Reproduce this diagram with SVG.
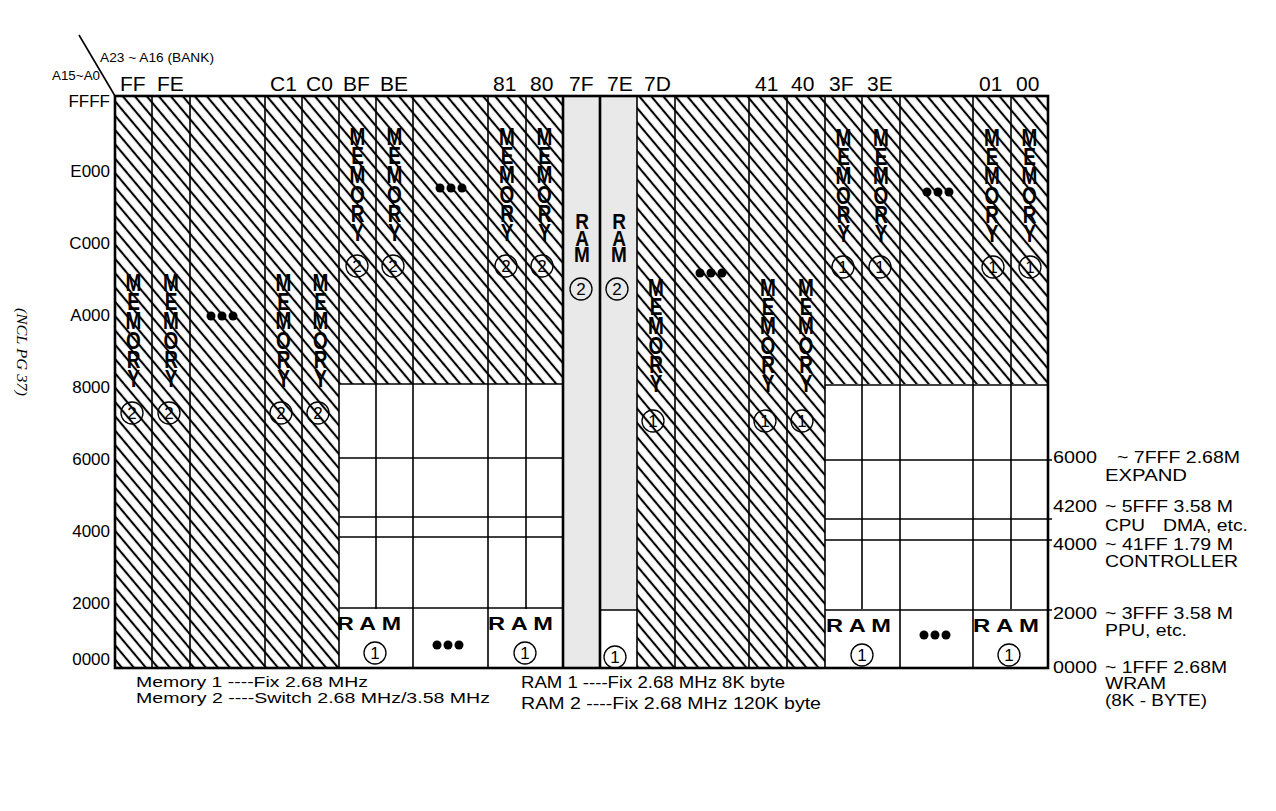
<svg xmlns="http://www.w3.org/2000/svg" width="1276" height="811" viewBox="0 0 1276 811">
<defs>
<pattern id="hatch" patternUnits="userSpaceOnUse" width="10" height="9.2" patternTransform="rotate(50)">
<line x1="-1" y1="4.6" x2="11" y2="4.6" stroke="#000" stroke-width="2.1"/>
</pattern>
<style>
.t{font-family:"Liberation Sans",Arial,sans-serif;fill:#000}
.hd{font-size:21px}
.ax{font-size:17px;text-anchor:end}
.rl{font-size:16px}
.lg{font-size:16.5px}
.lg2{font-size:15px}
.sm{font-size:13px}
.vt{font-family:"Liberation Sans",Arial,sans-serif;font-weight:bold;font-size:19px;writing-mode:vertical-rl;text-orientation:upright}
.ram{font-family:"Liberation Sans",Arial,sans-serif;font-weight:bold;font-size:19px}
.cd{font-family:"Liberation Sans",Arial,sans-serif;font-size:17px;text-anchor:middle}
.cc{fill:none;stroke:#000;stroke-width:1.3}
.ln{stroke:#000;stroke-width:1.6;fill:none}
.th{stroke:#000;stroke-width:2.6;fill:none}
</style>
</defs>
<rect width="1276" height="811" fill="#fff"/>

<g id="background">
<rect x="115" y="96" width="224" height="572" fill="url(#hatch)"/>
<rect x="339" y="96" width="224" height="288" fill="url(#hatch)"/>
<rect x="637" y="96" width="188" height="572" fill="url(#hatch)"/>
<rect x="825" y="96" width="223" height="288" fill="url(#hatch)"/>
<rect x="563" y="96" width="74" height="572" fill="#e9e9e9"/>
<rect x="600" y="610" width="37" height="58" fill="#fff"/>
</g>

<g id="gridlines">
<rect x="115" y="96" width="933" height="572" class="th"/>
<line class="ln" x1="152" y1="96" x2="152" y2="668"/>
<line class="ln" x1="190" y1="96" x2="190" y2="668"/>
<line class="ln" x1="265" y1="96" x2="265" y2="668"/>
<line class="ln" x1="302" y1="96" x2="302" y2="668"/>
<line class="ln" x1="339" y1="96" x2="339" y2="668"/>
<line class="ln" x1="376" y1="96" x2="376" y2="609"/>
<line class="ln" x1="413" y1="96" x2="413" y2="668"/>
<line class="ln" x1="488" y1="96" x2="488" y2="668"/>
<line class="ln" x1="526" y1="96" x2="526" y2="609"/>
<line class="th" x1="563" y1="96" x2="563" y2="668"/>
<line class="th" x1="600" y1="96" x2="600" y2="668"/>
<line class="ln" x1="637" y1="96" x2="637" y2="668"/>
<line class="ln" x1="675" y1="96" x2="675" y2="668"/>
<line class="ln" x1="749" y1="96" x2="749" y2="668"/>
<line class="ln" x1="787" y1="96" x2="787" y2="668"/>
<line class="ln" x1="825" y1="96" x2="825" y2="668"/>
<line class="ln" x1="862" y1="96" x2="862" y2="609"/>
<line class="ln" x1="900" y1="96" x2="900" y2="668"/>
<line class="ln" x1="973" y1="96" x2="973" y2="668"/>
<line class="ln" x1="1011" y1="96" x2="1011" y2="609"/>
<line class="ln" x1="339" y1="384" x2="563" y2="384"/>
<line class="ln" x1="339" y1="458" x2="563" y2="458"/>
<line class="ln" x1="339" y1="517" x2="563" y2="517"/>
<line class="ln" x1="339" y1="537" x2="563" y2="537"/>
<line class="ln" x1="339" y1="608" x2="563" y2="608"/>
<line class="ln" x1="600" y1="610" x2="637" y2="610"/>
<line class="ln" x1="825" y1="385" x2="1048" y2="385"/>
<line class="ln" x1="825" y1="460" x2="1052" y2="460"/>
<line class="ln" x1="825" y1="519" x2="1052" y2="519"/>
<line class="ln" x1="825" y1="540" x2="1052" y2="540"/>
<line class="ln" x1="825" y1="610" x2="1052" y2="610"/>
<line class="ln" x1="79" y1="35" x2="115" y2="96"/>
</g>

<g id="connectors"></g>

<g id="header">
<text class="t sm" x="100" y="62" textLength="114" lengthAdjust="spacingAndGlyphs">A23 ~ A16 (BANK)</text>
<text class="t sm" x="52" y="80" textLength="48" lengthAdjust="spacingAndGlyphs">A15~A0</text>
<text class="t hd" x="120" y="91">FF</text>
<text class="t hd" x="157" y="91">FE</text>
<text class="t hd" x="270" y="91">C1</text>
<text class="t hd" x="306" y="91">C0</text>
<text class="t hd" x="343" y="91">BF</text>
<text class="t hd" x="380" y="91">BE</text>
<text class="t hd" x="493" y="91">81</text>
<text class="t hd" x="530" y="91">80</text>
<text class="t hd" x="569" y="91">7F</text>
<text class="t hd" x="607" y="91">7E</text>
<text class="t hd" x="644" y="91">7D</text>
<text class="t hd" x="755" y="91">41</text>
<text class="t hd" x="791" y="91">40</text>
<text class="t hd" x="829" y="91">3F</text>
<text class="t hd" x="867" y="91">3E</text>
<text class="t hd" x="979" y="91">01</text>
<text class="t hd" x="1016" y="91">00</text>
</g>

<g id="axis">
<text class="t ax" x="110" y="107">FFFF</text>
<text class="t ax" x="110" y="177">E000</text>
<text class="t ax" x="110" y="249">C000</text>
<text class="t ax" x="110" y="321">A000</text>
<text class="t ax" x="110" y="393">8000</text>
<text class="t ax" x="110" y="465">6000</text>
<text class="t ax" x="110" y="537">4000</text>
<text class="t ax" x="110" y="609">2000</text>
<text class="t ax" x="110" y="665">0000</text>
</g>

<g id="memory2-low">
<text class="vt" transform="translate(133.5,270) scale(1,1.25)" x="0" y="0" letter-spacing="-5.8">MEMORY</text>
<text class="vt" transform="translate(171,270) scale(1,1.25)" x="0" y="0" letter-spacing="-5.8">MEMORY</text>
<text class="vt" transform="translate(283.5,270) scale(1,1.25)" x="0" y="0" letter-spacing="-5.8">MEMORY</text>
<text class="vt" transform="translate(320.5,270) scale(1,1.25)" x="0" y="0" letter-spacing="-5.8">MEMORY</text>
<g><circle class="cc" cx="132" cy="413" r="11"/><text class="cd" x="132" y="419">2</text></g>
<g><circle class="cc" cx="169" cy="413" r="11"/><text class="cd" x="169" y="419">2</text></g>
<g><circle class="cc" cx="281" cy="413" r="11"/><text class="cd" x="281" y="419">2</text></g>
<g><circle class="cc" cx="318" cy="413" r="11"/><text class="cd" x="318" y="419">2</text></g>
<g><circle cx="211" cy="316" r="4.5"/><circle cx="222" cy="316" r="4.5"/><circle cx="233" cy="316" r="4.5"/></g>
</g>

<g id="memory2-high">
<text class="vt" transform="translate(357.5,124) scale(1,1.25)" x="0" y="0" letter-spacing="-5.8">MEMORY</text>
<text class="vt" transform="translate(394.5,124) scale(1,1.25)" x="0" y="0" letter-spacing="-5.8">MEMORY</text>
<text class="vt" transform="translate(507,124) scale(1,1.25)" x="0" y="0" letter-spacing="-5.8">MEMORY</text>
<text class="vt" transform="translate(544.5,124) scale(1,1.25)" x="0" y="0" letter-spacing="-5.8">MEMORY</text>
<g><circle class="cc" cx="357" cy="266" r="11"/><text class="cd" x="357" y="272">2</text></g>
<g><circle class="cc" cx="393" cy="266" r="11"/><text class="cd" x="393" y="272">2</text></g>
<g><circle class="cc" cx="506" cy="266" r="11"/><text class="cd" x="506" y="272">2</text></g>
<g><circle class="cc" cx="542" cy="266" r="11"/><text class="cd" x="542" y="272">2</text></g>
<g><circle cx="440" cy="188" r="4.5"/><circle cx="451" cy="188" r="4.5"/><circle cx="462" cy="188" r="4.5"/></g>
</g>

<g id="ram-low-left">
<text class="ram" x="337" y="630" textLength="64" lengthAdjust="spacingAndGlyphs">R A M</text>
<g><circle class="cc" cx="375" cy="653" r="11"/><text class="cd" x="375" y="659">1</text></g>
<g><circle cx="437" cy="645" r="4.5"/><circle cx="448" cy="645" r="4.5"/><circle cx="459" cy="645" r="4.5"/></g>
<text class="ram" x="488" y="630" textLength="65" lengthAdjust="spacingAndGlyphs">R A M</text>
<g><circle class="cc" cx="525" cy="653" r="11"/><text class="cd" x="525" y="659">1</text></g>
</g>

<g id="ram2">
<text class="vt" transform="translate(582,209) scale(1,1.15)" x="0" y="0" letter-spacing="-7.2">RAM</text>
<text class="vt" transform="translate(619,209) scale(1,1.15)" x="0" y="0" letter-spacing="-7.2">RAM</text>
<g><circle class="cc" cx="581" cy="289" r="11"/><text class="cd" x="581" y="295">2</text></g>
<g><circle class="cc" cx="617" cy="289" r="11"/><text class="cd" x="617" y="295">2</text></g>
<g><circle class="cc" cx="615" cy="657" r="11"/><text class="cd" x="615" y="663">1</text></g>
</g>

<g id="memory1-low">
<text class="vt" transform="translate(656,275) scale(1,1.25)" x="0" y="0" letter-spacing="-5.8">MEMORY</text>
<text class="vt" transform="translate(768,275) scale(1,1.25)" x="0" y="0" letter-spacing="-5.8">MEMORY</text>
<text class="vt" transform="translate(806,275) scale(1,1.25)" x="0" y="0" letter-spacing="-5.8">MEMORY</text>
<g><circle class="cc" cx="653" cy="421" r="11"/><text class="cd" x="653" y="427">1</text></g>
<g><circle class="cc" cx="765" cy="421" r="11"/><text class="cd" x="765" y="427">1</text></g>
<g><circle class="cc" cx="802" cy="421" r="11"/><text class="cd" x="802" y="427">1</text></g>
<g><circle cx="700" cy="273" r="4.5"/><circle cx="711" cy="273" r="4.5"/><circle cx="722" cy="273" r="4.5"/></g>
</g>

<g id="memory1-high">
<text class="vt" transform="translate(843.5,125) scale(1,1.25)" x="0" y="0" letter-spacing="-5.8">MEMORY</text>
<text class="vt" transform="translate(881,125) scale(1,1.25)" x="0" y="0" letter-spacing="-5.8">MEMORY</text>
<text class="vt" transform="translate(992,125) scale(1,1.25)" x="0" y="0" letter-spacing="-5.8">MEMORY</text>
<text class="vt" transform="translate(1029.5,125) scale(1,1.25)" x="0" y="0" letter-spacing="-5.8">MEMORY</text>
<g><circle class="cc" cx="843" cy="267" r="11"/><text class="cd" x="843" y="273">1</text></g>
<g><circle class="cc" cx="880" cy="267" r="11"/><text class="cd" x="880" y="273">1</text></g>
<g><circle class="cc" cx="993" cy="267" r="11"/><text class="cd" x="993" y="273">1</text></g>
<g><circle class="cc" cx="1030" cy="267" r="11"/><text class="cd" x="1030" y="273">1</text></g>
<g><circle cx="927" cy="192" r="4.5"/><circle cx="938" cy="192" r="4.5"/><circle cx="949" cy="192" r="4.5"/></g>
</g>

<g id="ram-low-right">
<text class="ram" x="826" y="632" textLength="65" lengthAdjust="spacingAndGlyphs">R A M</text>
<g><circle class="cc" cx="862" cy="655" r="11"/><text class="cd" x="862" y="661">1</text></g>
<g><circle cx="924" cy="635" r="4.5"/><circle cx="935" cy="635" r="4.5"/><circle cx="946" cy="635" r="4.5"/></g>
<text class="ram" x="973" y="632" textLength="66" lengthAdjust="spacingAndGlyphs">R A M</text>
<g><circle class="cc" cx="1009" cy="655" r="11"/><text class="cd" x="1009" y="661">1</text></g>
</g>

<g id="right-labels">
<text class="t rl" x="1053" y="463" textLength="44" lengthAdjust="spacingAndGlyphs">6000</text>
<text class="t rl" x="1117" y="463" textLength="123" lengthAdjust="spacingAndGlyphs">~ 7FFF 2.68M</text>
<text class="t rl" x="1105" y="481" textLength="82" lengthAdjust="spacingAndGlyphs">EXPAND</text>
<text class="t rl" x="1053" y="512" textLength="44" lengthAdjust="spacingAndGlyphs">4200</text>
<text class="t rl" x="1105" y="512" textLength="128" lengthAdjust="spacingAndGlyphs">~ 5FFF 3.58 M</text>
<text class="t rl" x="1105" y="531" textLength="40" lengthAdjust="spacingAndGlyphs">CPU</text>
<text class="t rl" x="1163" y="531" textLength="85" lengthAdjust="spacingAndGlyphs">DMA, etc.</text>
<text class="t rl" x="1053" y="550" textLength="44" lengthAdjust="spacingAndGlyphs">4000</text>
<text class="t rl" x="1105" y="550" textLength="128" lengthAdjust="spacingAndGlyphs">~ 41FF 1.79 M</text>
<text class="t rl" x="1105" y="567" textLength="133" lengthAdjust="spacingAndGlyphs">CONTROLLER</text>
<text class="t rl" x="1053" y="619" textLength="44" lengthAdjust="spacingAndGlyphs">2000</text>
<text class="t rl" x="1105" y="619" textLength="128" lengthAdjust="spacingAndGlyphs">~ 3FFF 3.58 M</text>
<text class="t rl" x="1105" y="636" textLength="82" lengthAdjust="spacingAndGlyphs">PPU, etc.</text>
<text class="t rl" x="1053" y="673" textLength="44" lengthAdjust="spacingAndGlyphs">0000</text>
<text class="t rl" x="1105" y="673" textLength="122" lengthAdjust="spacingAndGlyphs">~ 1FFF 2.68M</text>
<text class="t rl" x="1105" y="689" textLength="61" lengthAdjust="spacingAndGlyphs">WRAM</text>
<text class="t rl" x="1105" y="706" textLength="102" lengthAdjust="spacingAndGlyphs">(8K - BYTE)</text>
</g>

<g id="legend">
<text class="t lg2" x="136" y="687" textLength="232" lengthAdjust="spacingAndGlyphs">Memory 1 ----Fix 2.68 MHz</text>
<text class="t lg2" x="136" y="703" textLength="354" lengthAdjust="spacingAndGlyphs">Memory 2 ----Switch 2.68 MHz/3.58 MHz</text>
<text class="t lg" x="521" y="688" textLength="264" lengthAdjust="spacingAndGlyphs">RAM 1 ----Fix 2.68 MHz 8K byte</text>
<text class="t lg" x="521" y="709" textLength="300" lengthAdjust="spacingAndGlyphs">RAM 2 ----Fix 2.68 MHz 120K byte</text>
</g>

<g id="side-note">
<text transform="translate(17,308) rotate(90)" x="0" y="0" font-family="'Liberation Serif',serif" font-style="italic" font-size="14" textLength="88" lengthAdjust="spacingAndGlyphs">(NCL PG 37)</text>
</g>
</svg>
